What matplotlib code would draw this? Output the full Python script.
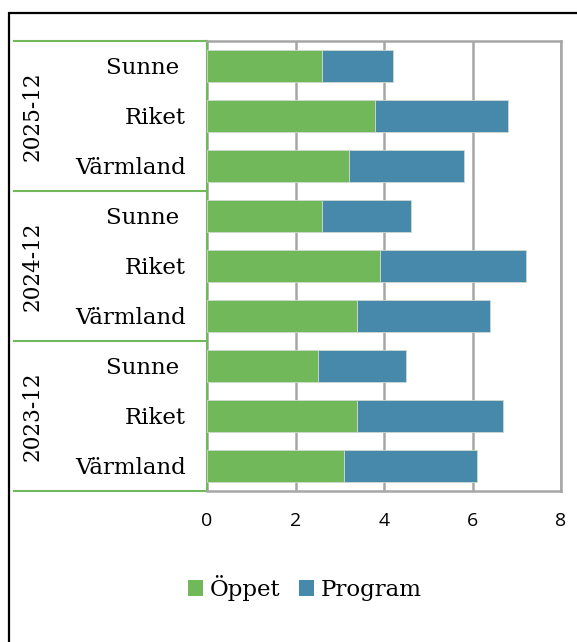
import matplotlib
matplotlib.use("Agg")
import matplotlib.pyplot as plt
from matplotlib.patches import Rectangle, Patch
from matplotlib.lines import Line2D
from matplotlib.transforms import blended_transform_factory

# ---- data (bottom to top) ----
years = ["2023-12", "2024-12", "2025-12"]
places = ["Värmland", "Riket", "Sunne "]
oppet = [3.1, 3.4, 2.5,   3.4, 3.9, 2.6,   3.2, 3.8, 2.6]
program = [3.0, 3.3, 2.0,   3.0, 3.3, 2.0,   2.6, 3.0, 1.6]
xticks = [0, 2, 4, 6, 8]
series_names = ["Öppet", "Program"]
colors = ["#70b85a", "#4789ab"]

W, H = 577, 642
fig = plt.figure(figsize=(W / 100, H / 100), dpi=100)
fig.patch.set_facecolor("white")

# outer black frame (only top/left visible)
fig.add_artist(Rectangle((8.5 / W, -0.1), 1.2, 1.1 - 12.5 / H,
                         transform=fig.transFigure, fill=False,
                         edgecolor="black", linewidth=1.6))

L, R, T, B = 207, 561, 41, 491
ax = fig.add_axes([L / W, 1 - B / H, (R - L) / W, (B - T) / H])

labels = [p for _ in years for p in places]
ypos = list(range(len(labels)))
ax.barh(ypos, oppet, height=0.64, color=colors[0], edgecolor="#d0d8d0",
        linewidth=0.6, zorder=3)
ax.barh(ypos, program, left=oppet, height=0.64, color=colors[1],
        edgecolor="#d0d8d0", linewidth=0.6, zorder=3)

ax.set_xlim(0, 8)
ax.set_ylim(-0.5, len(labels) - 0.5)
ax.set_xticks(xticks)
ax.set_xticklabels([str(v) for v in xticks], family="Open Sans", fontsize=14)
ax.tick_params(axis="x", length=0, pad=15)
ax.set_yticks(ypos)
ax.set_yticklabels(labels, family="DejaVu Serif", fontsize=16.5)
ax.tick_params(axis="y", length=0, pad=15)

ax.grid(axis="x", color="#a6a6a6", linewidth=1.8, zorder=0)
for s in ax.spines.values():
    s.set_color("#a6a6a6")
    s.set_linewidth(1.8)
ax.spines["left"].set_color("#70b85a")
ax.spines["left"].set_linewidth(1.5)

# group separators and year labels
tr = blended_transform_factory(fig.transFigure, ax.transData)
for i in range(len(years) + 1):
    y = i * len(places) - 0.5
    ax.add_line(Line2D([14 / W, L / W], [y, y], transform=tr, color="#70b85a",
                       linewidth=1.5, clip_on=False))
for i, yr in enumerate(years):
    yc = i * len(places) + (len(places) - 1) / 2
    ax.text(33 / W, yc, yr, transform=tr, rotation=90, ha="center",
            va="center", family="DejaVu Serif", fontsize=15.5)

handles = [Patch(facecolor=c, edgecolor="none") for c in colors]
fig.legend(handles, series_names, loc="center", bbox_to_anchor=(305 / W, 1 - 588 / H),
           ncol=2, frameon=False, prop={"family": "DejaVu Serif", "size": 16.5},
           handlelength=0.65, handleheight=0.65, handletextpad=0.3, columnspacing=0.8)

fig.savefig("out.png", dpi=100, facecolor="white")
